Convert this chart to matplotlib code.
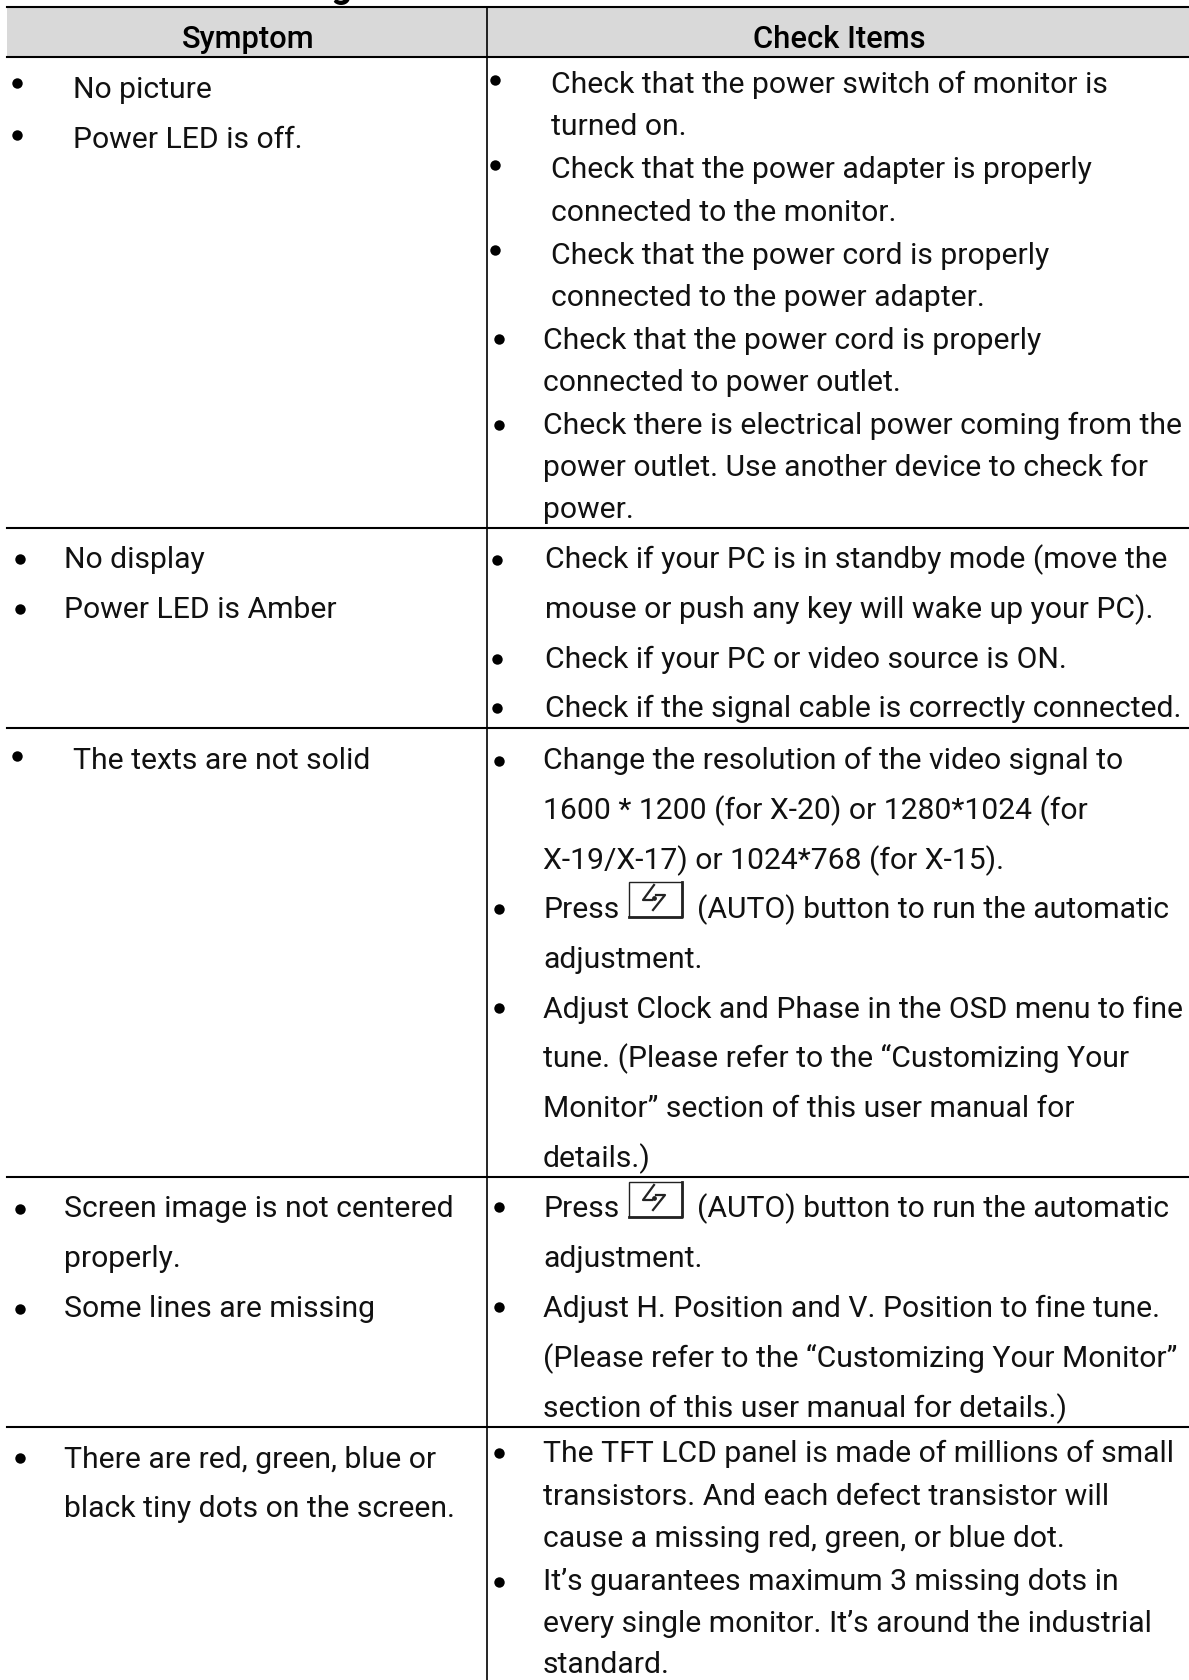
"""Troubleshooting table page, drawn in pixel coordinates."""
import matplotlib
matplotlib.use("Agg")
import matplotlib.pyplot as plt
from matplotlib.patches import Rectangle

WIDTH, HEIGHT = 1189, 1680
FONT = "Roboto"
FONT_SIZE = 21.7

HEADERS = ["Symptom", "Check Items"]
TITLE = "Troubleshooting"

# (x, y centre, text)
LEFT_LINES = [
    (73, 90, "No picture"),
    (73, 140, "Power LED is off."),
    (64, 560, "No display"),
    (64, 610, "Power LED is Amber"),
    (73, 761, "The texts are not solid"),
    (64, 1209, "Screen image is not centered"),
    (64, 1259, "properly."),
    (64, 1309, "Some lines are missing"),
    (64, 1460, "There are red, green, blue or"),
    (64, 1509, "black tiny dots on the screen."),
]
RIGHT_LINES = [
    (551, 85, "Check that the power switch of monitor is"),
    (551, 127, "turned on."),
    (551, 170, "Check that the power adapter is properly"),
    (551, 213, "connected to the monitor."),
    (551, 256, "Check that the power cord is properly"),
    (551, 298, "connected to the power adapter."),
    (543, 341, "Check that the power cord is properly"),
    (543, 383, "connected to power outlet."),
    (543, 426, "Check there is electrical power coming from the"),
    (543, 468, "power outlet. Use another device to check for"),
    (543, 510, "power."),
    (545, 560, "Check if your PC is in standby mode (move the"),
    (545, 610, "mouse or push any key will wake up your PC)."),
    (545, 660, "Check if your PC or video source is ON."),
    (545, 709, "Check if the signal cable is correctly connected."),
    (543, 761, "Change the resolution of the video signal to"),
    (543, 811, "1600 * 1200 (for X-20) or 1280*1024 (for"),
    (543, 861, "X-19/X-17) or 1024*768 (for X-15)."),
    (543, 910, "Press"),
    (697, 910, "(AUTO) button to run the automatic"),
    (543, 960, "adjustment."),
    (543, 1010, "Adjust Clock and Phase in the OSD menu to fine"),
    (543, 1059, "tune. (Please refer to the \u201cCustomizing Your"),
    (543, 1109, "Monitor\u201d section of this user manual for"),
    (543, 1159, "details.)"),
    (543, 1209, "Press"),
    (697, 1209, "(AUTO) button to run the automatic"),
    (543, 1259, "adjustment."),
    (543, 1309, "Adjust H. Position and V. Position to fine tune."),
    (543, 1359, "(Please refer to the \u201cCustomizing Your Monitor\u201d"),
    (543, 1409, "section of this user manual for details.)"),
    (543, 1454, "The TFT LCD panel is made of millions of small"),
    (543, 1497, "transistors. And each defect transistor will"),
    (543, 1539, "cause a missing red, green, or blue dot."),
    (543, 1582, "It\u2019s guarantees maximum 3 missing dots in"),
    (543, 1624, "every single monitor. It\u2019s around the industrial"),
    (543, 1665, "standard."),
]
BULLETS = [
    (17, 83), (17, 135), (20, 559), (20, 609), (17, 756), (20, 1209), (20, 1309), (20, 1458),
    (495, 80), (495, 165), (495, 250), (499, 339), (499, 425), (497, 560), (497, 659), (497, 708),
    (499, 761), (499, 909), (499, 1008), (499, 1207), (499, 1307), (499, 1453), (499, 1582),
]
ROW_LINES = [57, 528, 728, 1177, 1427]
BUTTONS = [(629, 882), (629, 1182)]
# arrow strokes of the AUTO key, relative to the key corner
ICON_STROKES = [
    ([25, 14, 23], [3, 18, 18]),
    ([24, 36, 27], [28, 13, 13]),
]
ICON_DOT = (25, 16)

fig = plt.figure(figsize=(WIDTH / 100, HEIGHT / 100), dpi=100)
ax = fig.add_axes([0, 0, 1, 1])
ax.set_xlim(0, WIDTH)
ax.set_ylim(HEIGHT, 0)
ax.axis("off")

# only the descender of the page heading shows above the table
ax.text(352, -3, TITLE, family=FONT, fontsize=26, weight="bold", ha="right", va="baseline")

ax.add_patch(Rectangle((7, 7), WIDTH - 7, 50, color="#d9d9d9", lw=0))
ax.text(248, 39, HEADERS[0], family=FONT, fontsize=22.2, weight="medium", ha="center", va="center")
ax.text(839, 39, HEADERS[1], family=FONT, fontsize=22.2, weight="medium", ha="center", va="center")

ax.plot([7, WIDTH], [7, 7], color="k", lw=1.5)
for y in ROW_LINES:
    ax.plot([7, WIDTH], [y, y], color="k", lw=1.5)
ax.plot([487, 487], [7, HEIGHT], color="k", lw=1.2)

for x, y, s in LEFT_LINES + RIGHT_LINES:
    ax.text(x, y, s, family=FONT, fontsize=FONT_SIZE, ha="left", va="center", color="#111111")

bx, by = zip(*BULLETS)
ax.plot(bx, by, "o", color="k", ms=7.5, mew=0, ls="none")

for x, y in BUTTONS:
    ax.add_patch(Rectangle((x, y), 53, 35, fill=False, ec="#222222", lw=1.0))
    ax.plot([x, x + 53, x + 53], [y + 35, y + 35, y], color="#222222", lw=2.0)
    for sx, sy in ICON_STROKES:
        ax.plot([x + v for v in sx], [y + v for v in sy], color="#222222", lw=1.6)
    ax.plot(x + ICON_DOT[0], y + ICON_DOT[1], "o", color="#222222", ms=3.5, mew=0)

fig.savefig("out.png", dpi=100)
